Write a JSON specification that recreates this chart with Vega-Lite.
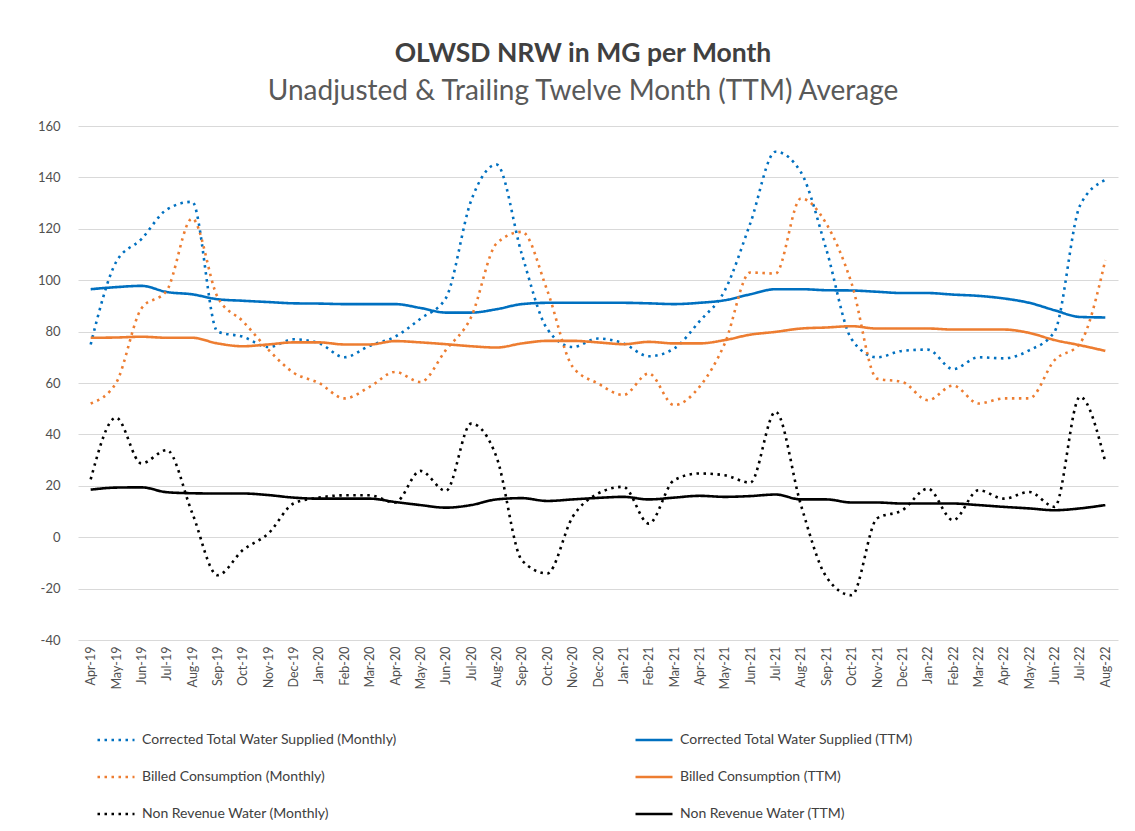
{
  "$schema": "https://vega.github.io/schema/vega-lite/v6.json",
  "width": 1040,
  "height": 514,
  "autosize": {"type": "none"},
  "padding": {"left": 78, "top": 126, "right": 17, "bottom": 191},
  "background": "white",
  "title": {
    "text": "OLWSD NRW in MG per Month",
    "subtitle": "Unadjusted & Trailing Twelve Month (TTM) Average",
    "anchor": "middle",
    "dx": -15,
    "offset": 14,
    "font": "Lato",
    "fontSize": 26.5,
    "fontWeight": "bold",
    "color": "#404040",
    "subtitleFont": "Lato",
    "subtitleFontSize": 28,
    "subtitleColor": "#595959",
    "subtitlePadding": 11
  },
  "data": {
    "values": [
      {"month": "Apr-19", "Corrected Total Water Supplied (Monthly)": 75, "Corrected Total Water Supplied (TTM)": 96.5, "Billed Consumption (Monthly)": 52, "Billed Consumption (TTM)": 77.6, "Non Revenue Water (Monthly)": 22.5, "Non Revenue Water (TTM)": 18.5},
      {"month": "May-19", "Corrected Total Water Supplied (Monthly)": 107, "Corrected Total Water Supplied (TTM)": 97.3, "Billed Consumption (Monthly)": 60, "Billed Consumption (TTM)": 77.7, "Non Revenue Water (Monthly)": 46.5, "Non Revenue Water (TTM)": 19.3},
      {"month": "Jun-19", "Corrected Total Water Supplied (Monthly)": 116, "Corrected Total Water Supplied (TTM)": 97.8, "Billed Consumption (Monthly)": 89, "Billed Consumption (TTM)": 78, "Non Revenue Water (Monthly)": 28.7, "Non Revenue Water (TTM)": 19.4},
      {"month": "Jul-19", "Corrected Total Water Supplied (Monthly)": 127.5, "Corrected Total Water Supplied (TTM)": 95.4, "Billed Consumption (Monthly)": 96, "Billed Consumption (TTM)": 77.6, "Non Revenue Water (Monthly)": 33.9, "Non Revenue Water (TTM)": 17.5},
      {"month": "Aug-19", "Corrected Total Water Supplied (Monthly)": 130.5, "Corrected Total Water Supplied (TTM)": 94.5, "Billed Consumption (Monthly)": 124, "Billed Consumption (TTM)": 77.6, "Non Revenue Water (Monthly)": 9.5, "Non Revenue Water (TTM)": 17.1},
      {"month": "Sep-19", "Corrected Total Water Supplied (Monthly)": 80, "Corrected Total Water Supplied (TTM)": 92.6, "Billed Consumption (Monthly)": 93.5, "Billed Consumption (TTM)": 75.4, "Non Revenue Water (Monthly)": -14.8, "Non Revenue Water (TTM)": 17},
      {"month": "Oct-19", "Corrected Total Water Supplied (Monthly)": 78, "Corrected Total Water Supplied (TTM)": 92, "Billed Consumption (Monthly)": 84, "Billed Consumption (TTM)": 74.3, "Non Revenue Water (Monthly)": -5, "Non Revenue Water (TTM)": 17},
      {"month": "Nov-19", "Corrected Total Water Supplied (Monthly)": 74, "Corrected Total Water Supplied (TTM)": 91.5, "Billed Consumption (Monthly)": 73, "Billed Consumption (TTM)": 75, "Non Revenue Water (Monthly)": 1.4, "Non Revenue Water (TTM)": 16.4},
      {"month": "Dec-19", "Corrected Total Water Supplied (Monthly)": 77, "Corrected Total Water Supplied (TTM)": 91, "Billed Consumption (Monthly)": 64, "Billed Consumption (TTM)": 75.8, "Non Revenue Water (Monthly)": 13.1, "Non Revenue Water (TTM)": 15.4},
      {"month": "Jan-20", "Corrected Total Water Supplied (Monthly)": 75.5, "Corrected Total Water Supplied (TTM)": 90.9, "Billed Consumption (Monthly)": 60, "Billed Consumption (TTM)": 75.8, "Non Revenue Water (Monthly)": 15.4, "Non Revenue Water (TTM)": 15},
      {"month": "Feb-20", "Corrected Total Water Supplied (Monthly)": 70, "Corrected Total Water Supplied (TTM)": 90.7, "Billed Consumption (Monthly)": 54, "Billed Consumption (TTM)": 75, "Non Revenue Water (Monthly)": 16.3, "Non Revenue Water (TTM)": 15},
      {"month": "Mar-20", "Corrected Total Water Supplied (Monthly)": 74.5, "Corrected Total Water Supplied (TTM)": 90.7, "Billed Consumption (Monthly)": 58.5, "Billed Consumption (TTM)": 75, "Non Revenue Water (Monthly)": 16.3, "Non Revenue Water (TTM)": 15},
      {"month": "Apr-20", "Corrected Total Water Supplied (Monthly)": 78, "Corrected Total Water Supplied (TTM)": 90.7, "Billed Consumption (Monthly)": 64.3, "Billed Consumption (TTM)": 76.3, "Non Revenue Water (Monthly)": 13.5, "Non Revenue Water (TTM)": 13.7},
      {"month": "May-20", "Corrected Total Water Supplied (Monthly)": 85, "Corrected Total Water Supplied (TTM)": 89.2, "Billed Consumption (Monthly)": 60.4, "Billed Consumption (TTM)": 75.8, "Non Revenue Water (Monthly)": 25.8, "Non Revenue Water (TTM)": 12.5},
      {"month": "Jun-20", "Corrected Total Water Supplied (Monthly)": 93, "Corrected Total Water Supplied (TTM)": 87.4, "Billed Consumption (Monthly)": 72.8, "Billed Consumption (TTM)": 75.1, "Non Revenue Water (Monthly)": 18, "Non Revenue Water (TTM)": 11.5},
      {"month": "Jul-20", "Corrected Total Water Supplied (Monthly)": 131, "Corrected Total Water Supplied (TTM)": 87.4, "Billed Consumption (Monthly)": 85.7, "Billed Consumption (TTM)": 74.3, "Non Revenue Water (Monthly)": 44.2, "Non Revenue Water (TTM)": 12.5},
      {"month": "Aug-20", "Corrected Total Water Supplied (Monthly)": 145, "Corrected Total Water Supplied (TTM)": 88.7, "Billed Consumption (Monthly)": 114.3, "Billed Consumption (TTM)": 73.8, "Non Revenue Water (Monthly)": 31.2, "Non Revenue Water (TTM)": 14.7},
      {"month": "Sep-20", "Corrected Total Water Supplied (Monthly)": 110, "Corrected Total Water Supplied (TTM)": 90.7, "Billed Consumption (Monthly)": 118.8, "Billed Consumption (TTM)": 75.4, "Non Revenue Water (Monthly)": -9, "Non Revenue Water (TTM)": 15.2},
      {"month": "Oct-20", "Corrected Total Water Supplied (Monthly)": 81, "Corrected Total Water Supplied (TTM)": 91.2, "Billed Consumption (Monthly)": 96, "Billed Consumption (TTM)": 76.4, "Non Revenue Water (Monthly)": -14.1, "Non Revenue Water (TTM)": 14.1},
      {"month": "Nov-20", "Corrected Total Water Supplied (Monthly)": 74, "Corrected Total Water Supplied (TTM)": 91.2, "Billed Consumption (Monthly)": 66.3, "Billed Consumption (TTM)": 76.4, "Non Revenue Water (Monthly)": 7.9, "Non Revenue Water (TTM)": 14.7},
      {"month": "Dec-20", "Corrected Total Water Supplied (Monthly)": 77.3, "Corrected Total Water Supplied (TTM)": 91.2, "Billed Consumption (Monthly)": 59.8, "Billed Consumption (TTM)": 75.8, "Non Revenue Water (Monthly)": 17, "Non Revenue Water (TTM)": 15.3},
      {"month": "Jan-21", "Corrected Total Water Supplied (Monthly)": 75.4, "Corrected Total Water Supplied (TTM)": 91.2, "Billed Consumption (Monthly)": 55.3, "Billed Consumption (TTM)": 75.1, "Non Revenue Water (Monthly)": 19.6, "Non Revenue Water (TTM)": 15.7},
      {"month": "Feb-21", "Corrected Total Water Supplied (Monthly)": 70.4, "Corrected Total Water Supplied (TTM)": 91, "Billed Consumption (Monthly)": 63.7, "Billed Consumption (TTM)": 76, "Non Revenue Water (Monthly)": 5.3, "Non Revenue Water (TTM)": 14.7},
      {"month": "Mar-21", "Corrected Total Water Supplied (Monthly)": 73.4, "Corrected Total Water Supplied (TTM)": 90.7, "Billed Consumption (Monthly)": 51.4, "Billed Consumption (TTM)": 75.4, "Non Revenue Water (Monthly)": 22.2, "Non Revenue Water (TTM)": 15.4},
      {"month": "Apr-21", "Corrected Total Water Supplied (Monthly)": 84, "Corrected Total Water Supplied (TTM)": 91.2, "Billed Consumption (Monthly)": 58.5, "Billed Consumption (TTM)": 75.4, "Non Revenue Water (Monthly)": 24.8, "Non Revenue Water (TTM)": 16.1},
      {"month": "May-21", "Corrected Total Water Supplied (Monthly)": 96, "Corrected Total Water Supplied (TTM)": 92.2, "Billed Consumption (Monthly)": 75.4, "Billed Consumption (TTM)": 76.7, "Non Revenue Water (Monthly)": 24.1, "Non Revenue Water (TTM)": 15.7},
      {"month": "Jun-21", "Corrected Total Water Supplied (Monthly)": 122, "Corrected Total Water Supplied (TTM)": 94.5, "Billed Consumption (Monthly)": 103, "Billed Consumption (TTM)": 78.8, "Non Revenue Water (Monthly)": 21.2, "Non Revenue Water (TTM)": 16},
      {"month": "Jul-21", "Corrected Total Water Supplied (Monthly)": 150, "Corrected Total Water Supplied (TTM)": 96.5, "Billed Consumption (Monthly)": 102.6, "Billed Consumption (TTM)": 79.9, "Non Revenue Water (Monthly)": 48.8, "Non Revenue Water (TTM)": 16.6},
      {"month": "Aug-21", "Corrected Total Water Supplied (Monthly)": 142, "Corrected Total Water Supplied (TTM)": 96.5, "Billed Consumption (Monthly)": 131.8, "Billed Consumption (TTM)": 81.2, "Non Revenue Water (Monthly)": 12.5, "Non Revenue Water (TTM)": 14.7},
      {"month": "Sep-21", "Corrected Total Water Supplied (Monthly)": 112, "Corrected Total Water Supplied (TTM)": 96.1, "Billed Consumption (Monthly)": 122, "Billed Consumption (TTM)": 81.6, "Non Revenue Water (Monthly)": -15.4, "Non Revenue Water (TTM)": 14.7},
      {"month": "Oct-21", "Corrected Total Water Supplied (Monthly)": 77, "Corrected Total Water Supplied (TTM)": 96, "Billed Consumption (Monthly)": 98.7, "Billed Consumption (TTM)": 82.1, "Non Revenue Water (Monthly)": -22.6, "Non Revenue Water (TTM)": 13.5},
      {"month": "Nov-21", "Corrected Total Water Supplied (Monthly)": 70, "Corrected Total Water Supplied (TTM)": 95.5, "Billed Consumption (Monthly)": 61.7, "Billed Consumption (TTM)": 81.2, "Non Revenue Water (Monthly)": 7.3, "Non Revenue Water (TTM)": 13.5},
      {"month": "Dec-21", "Corrected Total Water Supplied (Monthly)": 72.5, "Corrected Total Water Supplied (TTM)": 95, "Billed Consumption (Monthly)": 60.4, "Billed Consumption (TTM)": 81.2, "Non Revenue Water (Monthly)": 10.5, "Non Revenue Water (TTM)": 13.1},
      {"month": "Jan-22", "Corrected Total Water Supplied (Monthly)": 73, "Corrected Total Water Supplied (TTM)": 95, "Billed Consumption (Monthly)": 53.3, "Billed Consumption (TTM)": 81.2, "Non Revenue Water (Monthly)": 18.9, "Non Revenue Water (TTM)": 13.1},
      {"month": "Feb-22", "Corrected Total Water Supplied (Monthly)": 65.4, "Corrected Total Water Supplied (TTM)": 94.4, "Billed Consumption (Monthly)": 59, "Billed Consumption (TTM)": 80.8, "Non Revenue Water (Monthly)": 6.6, "Non Revenue Water (TTM)": 13.1},
      {"month": "Mar-22", "Corrected Total Water Supplied (Monthly)": 70, "Corrected Total Water Supplied (TTM)": 93.9, "Billed Consumption (Monthly)": 52, "Billed Consumption (TTM)": 80.8, "Non Revenue Water (Monthly)": 18.3, "Non Revenue Water (TTM)": 12.5},
      {"month": "Apr-22", "Corrected Total Water Supplied (Monthly)": 69.6, "Corrected Total Water Supplied (TTM)": 92.9, "Billed Consumption (Monthly)": 54, "Billed Consumption (TTM)": 80.8, "Non Revenue Water (Monthly)": 15, "Non Revenue Water (TTM)": 11.8},
      {"month": "May-22", "Corrected Total Water Supplied (Monthly)": 72.7, "Corrected Total Water Supplied (TTM)": 91.2, "Billed Consumption (Monthly)": 54, "Billed Consumption (TTM)": 79.5, "Non Revenue Water (Monthly)": 17.6, "Non Revenue Water (TTM)": 11.2},
      {"month": "Jun-22", "Corrected Total Water Supplied (Monthly)": 80, "Corrected Total Water Supplied (TTM)": 88.3, "Billed Consumption (Monthly)": 68.9, "Billed Consumption (TTM)": 76.7, "Non Revenue Water (Monthly)": 11.8, "Non Revenue Water (TTM)": 10.5},
      {"month": "Jul-22", "Corrected Total Water Supplied (Monthly)": 129, "Corrected Total Water Supplied (TTM)": 85.7, "Billed Consumption (Monthly)": 75.4, "Billed Consumption (TTM)": 74.7, "Non Revenue Water (Monthly)": 54.6, "Non Revenue Water (TTM)": 11.2},
      {"month": "Aug-22", "Corrected Total Water Supplied (Monthly)": 139, "Corrected Total Water Supplied (TTM)": 85.5, "Billed Consumption (Monthly)": 107.8, "Billed Consumption (TTM)": 72.5, "Non Revenue Water (Monthly)": 29.3, "Non Revenue Water (TTM)": 12.5}
    ]
  },
  "transform": [
    {"fold": ["Corrected Total Water Supplied (Monthly)", "Corrected Total Water Supplied (TTM)", "Billed Consumption (Monthly)", "Billed Consumption (TTM)", "Non Revenue Water (Monthly)", "Non Revenue Water (TTM)"], "as": ["series", "value"]}
  ],
  "mark": {"type": "line", "interpolate": "monotone", "strokeCap": "butt"},
  "encoding": {
    "x": {
      "field": "month",
      "type": "ordinal",
      "sort": null,
      "scale": {"type": "point", "padding": 0.5},
      "axis": {
        "title": null,
        "labelAngle": -90,
        "labelFont": "Lato",
        "labelFontSize": 12.5,
        "labelColor": "#505050",
        "labelPadding": 6,
        "ticks": false,
        "domain": false,
        "grid": false
      }
    },
    "y": {
      "field": "value",
      "type": "quantitative",
      "scale": {"domain": [-40, 160], "nice": false, "zero": false},
      "axis": {
        "title": null,
        "values": [-40, -20, 0, 20, 40, 60, 80, 100, 120, 140, 160],
        "labelExpr": "replace(datum.label, '\u2212', '-')",
        "labelFont": "Lato",
        "labelFontSize": 13,
        "labelColor": "#505050",
        "labelPadding": 18,
        "ticks": false,
        "domain": false,
        "grid": true,
        "gridColor": "#d9d9d9",
        "gridWidth": 1.2
      }
    },
    "color": {
      "field": "series",
      "type": "nominal",
      "scale": {
        "domain": ["Corrected Total Water Supplied (Monthly)", "Billed Consumption (Monthly)", "Non Revenue Water (Monthly)", "Corrected Total Water Supplied (TTM)", "Billed Consumption (TTM)", "Non Revenue Water (TTM)"],
        "range": ["#0070C0", "#ED7D31", "#000000", "#0070C0", "#ED7D31", "#000000"]
      },
      "legend": {
        "title": null,
        "orient": "none",
        "legendX": 18,
        "legendY": 594,
        "columns": 2,
        "columnPadding": 232,
        "rowPadding": 10,
        "symbolType": "stroke",
        "symbolSize": 1369,
        "labelFont": "Lato",
        "labelFontSize": 14,
        "labelColor": "#404040",
        "labelLimit": 400,
        "labelOffset": 6
      }
    },
    "strokeDash": {
      "field": "series",
      "type": "nominal",
      "scale": {
        "domain": ["Corrected Total Water Supplied (Monthly)", "Billed Consumption (Monthly)", "Non Revenue Water (Monthly)", "Corrected Total Water Supplied (TTM)", "Billed Consumption (TTM)", "Non Revenue Water (TTM)"],
        "range": [[2.5, 4.5], [2.5, 4.5], [2.5, 4.5], [1, 0], [1, 0], [1, 0]]
      }
    },
    "strokeWidth": {
      "field": "series",
      "type": "nominal",
      "scale": {
        "domain": ["Corrected Total Water Supplied (Monthly)", "Billed Consumption (Monthly)", "Non Revenue Water (Monthly)", "Corrected Total Water Supplied (TTM)", "Billed Consumption (TTM)", "Non Revenue Water (TTM)"],
        "range": [2.6, 2.6, 2.6, 3.6, 3.6, 3.6]
      }
    }
  },
  "config": {
    "view": {"stroke": null},
    "font": "Lato"
  }
}
